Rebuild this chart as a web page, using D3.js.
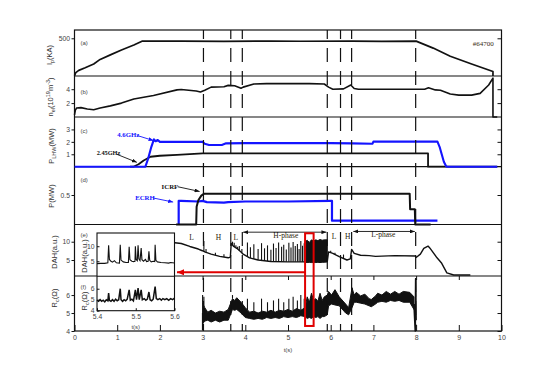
<!DOCTYPE html>
<html><head><meta charset="utf-8">
<script src="https://cdn.jsdelivr.net/npm/d3@7"></script>
<style>body{margin:0;background:#fff}svg{display:block}</style>
</head><body>
<svg id="c" width="557" height="365"></svg>
<script>
// ---------------- DATA ----------------
const tTicks = [0,1,2,3,4,5,6,7,8,9,10];
const ipTicks = [500], neTicks = [2,4], plhTicks = [1,2,3], pTicks = [0.5], dahTicks = [5,10], rcTicks = [4,5,6];
const insetTTicks = [5.4,5.5,5.6], insetDahTicks = [5,10], insetRcTicks = [4,5,6];
const eventTimes = [3.02,3.66,3.93,5.92,6.23,6.49,7.99];
const shotLabel = "#64700";

const ip = [[0,5],[0.03,45],[0.1,75],[0.25,110],[0.45,160],[0.6,220],[0.84,280],[1.1,345],[1.39,410],[1.58,462],
  [2.5,462],[3.5,460],[4.6,462],[5.3,461],[6.5,462],[7.2,460],[8.0,462],[8.4,370],[8.8,262],[9.3,160],[9.8,60],[9.8,0]];
const ne = [[0,0.3],[0.02,1.0],[0.05,1.3],[0.15,1.35],[0.3,1.15],[0.45,1.05],[0.6,1.3],[0.84,1.6],[1.1,2.0],[1.39,2.6],
  [1.85,3.1],[2.4,3.9],[2.5,3.95],[2.85,3.75],[2.95,3.6],[3.05,3.85],[3.2,4.3],[3.5,4.35],[3.6,4.55],[3.75,4.5],[3.9,4.15],
  [3.95,4.3],[4.2,4.75],[4.5,4.8],[5.0,4.8],[5.5,4.8],[5.85,4.75],[5.95,4.3],[6.05,4.0],[6.3,4.05],[6.47,4.6],[6.55,4.1],
  [6.65,4.0],[7.0,4.0],[7.5,4.0],[8.0,4.0],[8.2,4.0],[8.29,4.2],[8.45,3.9],[8.57,3.85],[8.8,3.3],[9.0,3.15],[9.3,3.15],
  [9.5,3.4],[9.7,4.6],[9.8,5.6],[9.8,0],[9.9,0]];
const lh46 = [[0,0],[1.66,0],[1.72,0.6],[1.8,1.6],[1.86,2.2],[1.9,2.05],[1.95,2.15],[2.0,2.0],[2.5,2.0],[3.0,2.0],[3.05,1.85],
  [3.15,1.75],[3.45,1.75],[3.55,1.88],[4.0,1.9],[5.0,1.9],[6.0,1.9],[6.5,1.88],[6.98,1.85],[7.0,2.02],[8.5,2.02],[8.55,1.6],
  [8.6,1.0],[8.65,0.4],[8.7,0.05],[8.72,0],[9.9,0]];
const lh245 = [[1.3,0],[1.38,0],[1.5,0.2],[1.62,0.5],[1.78,0.8],[2.0,0.88],[2.4,0.95],[2.9,1.05],[3.0,1.07],[8.28,1.07],[8.28,0],[9.9,0]];
const ecrh = [[2.44,0],[2.44,0.40],[2.5,0.40],[2.9,0.39],[3.0,0.40],[3.1,0.38],[3.5,0.37],[3.6,0.38],[4.0,0.39],[5.0,0.39],
  [6.0,0.40],[6.03,0.40],[6.03,0.065],[8.5,0.065]];
const icrf = [[2.38,0],[2.85,0],[2.86,0.30],[2.9,0.41],[2.97,0.49],[3.03,0.52],[7.85,0.52],[7.86,0.26],[7.97,0.26],[7.98,0],[8.34,0]];
const dah = [[2.0,9.8],[2.35,9.7],[2.5,9.5],[2.7,8.7],[2.9,8.0],[2.98,7.6],[3.02,7.4],[3.05,7.2],[3.2,6.6],[3.4,6.0],
  [3.6,5.6],[3.65,5.8],[3.67,9.5],[3.72,8.8],[3.8,8.2],[3.9,7.2],[3.95,6.6],[4.1,5.6],[4.3,5.0],[4.6,4.6],[5.0,4.5],[5.4,4.5],
  [5.92,4.6],[5.95,7.2],[6.05,6.8],[6.2,5.9],[6.38,5.0],[6.46,5.3],[6.49,7.9],[6.55,6.8],[6.7,6.3],[6.9,6.2],[7.05,6.0],
  [7.5,6.2],[7.98,6.1],[8.0,5.7],[8.1,6.6],[8.18,8.2],[8.28,8.8],[8.32,8.3],[8.49,5.6],[8.6,4.1],[8.72,1.5],[8.88,0.9],[9.27,0.9]];
const dahSpikes = [[3.03,10.2],[3.08,8.0],[3.3,7.0],[3.5,6.6],[3.7,10.0],[3.74,9.7],[3.78,9.0],[3.82,8.6],[3.86,8.8],[3.92,8.0],
  [4.05,9.8],[4.12,8.5],[4.2,9.3],[4.3,8.0],[4.38,9.6],[4.45,8.2],[4.52,9.0],[4.6,7.8],[4.66,9.5],[4.72,8.3],[4.78,9.8],
  [4.85,8.6],[4.9,9.2],[4.96,7.9],[5.02,9.7],[5.07,8.4],[5.12,9.9],[5.17,8.8],[5.22,9.4],[5.26,8.0],[5.3,10.2],[5.34,8.9],
  [5.38,9.6],[6.0,7.5],[6.1,7.0],[6.3,6.5]];
const dahBand = [[5.4,4.4,10.0],[5.45,4.3,10.4],[5.5,4.4,9.8],[5.55,4.3,10.5],[5.6,4.4,10.2],[5.65,4.3,10.5],[5.7,4.4,10.3],
  [5.75,4.3,10.6],[5.8,4.4,10.4],[5.85,4.4,10.5],[5.92,4.5,10.5]];
const rcBand = [[3.0,4.4,5.6],[3.05,4.55,5.3],[3.12,4.6,5.05],[3.2,4.5,5.15],[3.3,4.6,5.0],[3.4,4.5,5.1],[3.5,4.6,5.05],
  [3.6,4.6,5.2],[3.65,4.9,5.5],[3.7,5.2,5.8],[3.75,5.15,5.7],[3.8,5.2,5.85],[3.9,5.0,5.6],[4.0,4.75,5.3],[4.1,4.7,5.05],
  [4.2,4.65,5.1],[4.3,4.7,5.0],[4.4,4.65,5.1],[4.5,4.75,5.05],[4.6,4.7,5.15],[4.7,4.75,5.05],[4.8,4.7,5.15],[4.9,4.8,5.1],
  [5.0,4.75,5.2],[5.1,4.8,5.1],[5.2,4.75,5.25],[5.3,4.85,5.15],[5.4,4.8,5.3],[5.45,4.7,5.9],[5.5,4.75,5.6],
  [5.55,4.7,6.1],[5.6,4.8,5.7],[5.65,4.75,5.8],[5.7,4.8,5.65],[5.75,4.7,6.1],[5.8,4.8,5.7],[5.85,4.8,5.9],[5.92,4.9,6.0],
  [5.95,5.4,6.2],[6.02,5.5,6.0],[6.1,5.45,6.3],[6.2,5.4,5.9],[6.35,5.0,5.5],[6.42,4.9,5.3],[6.5,5.3,6.4],[6.55,5.6,6.0],
  [6.6,5.6,6.15],[6.7,5.55,5.95],[6.8,5.5,6.05],[6.9,5.4,5.8],[6.95,5.35,5.75],[7.05,5.5,5.95],[7.1,5.6,6.1],[7.2,5.65,6.0],
  [7.3,5.6,6.2],[7.4,5.7,6.05],[7.5,5.65,6.2],[7.6,5.7,6.05],[7.7,5.6,6.2],[7.85,5.6,6.15],[7.95,5.2,5.9]];
const rcSpikes = [[3.0,6.0],[3.03,5.9],[3.7,6.0],[4.05,5.8],[4.2,5.6],[4.38,5.8],[4.52,5.6],[4.66,5.7],[4.78,5.8],[4.9,5.6],
  [5.02,5.8],[5.12,5.9],[5.22,5.7],[5.3,6.0],[5.38,5.8],[6.49,6.45],[7.99,6.9]];
const rcDrop = [[7.95,5.5],[7.98,4.0],[7.99,6.9],[8.0,4.6]];

const insetDah = [[5.400,4.2],[5.410,4.3],[5.420,4.3],[5.428,4.5],[5.430,10.3],[5.432,5.6],[5.436,5.0],[5.440,4.7],[5.445,5.2],
  [5.450,4.5],[5.458,4.4],[5.460,10.5],[5.462,5.4],[5.468,4.8],[5.475,4.6],[5.481,4.6],[5.483,9.8],[5.485,5.5],[5.490,5.0],
  [5.494,4.9],[5.498,5.0],[5.499,10.0],[5.501,5.6],[5.504,5.2],[5.506,10.3],[5.508,5.8],[5.511,5.2],[5.514,9.4],[5.516,5.5],
  [5.520,5.0],[5.525,5.6],[5.528,4.9],[5.532,5.0],[5.534,8.3],[5.536,5.3],[5.540,4.8],[5.545,5.0],[5.549,4.9],[5.550,10.5],
  [5.552,5.3],[5.556,4.8],[5.565,4.6],[5.575,4.5],[5.585,4.4],[5.590,4.6],[5.600,4.4]];
const insetRc = [[5.400,4.95],[5.404,4.85],[5.408,5.0],[5.412,4.85],[5.416,4.95],[5.420,4.8],[5.424,5.0],[5.428,4.9],[5.430,5.6],
  [5.432,4.95],[5.436,4.85],[5.440,5.0],[5.444,4.85],[5.448,5.05],[5.452,4.9],[5.456,5.0],[5.460,6.0],[5.462,5.0],[5.466,4.85],
  [5.470,5.0],[5.474,4.9],[5.478,5.05],[5.483,5.9],[5.486,4.95],[5.490,5.05],[5.494,4.9],[5.499,5.9],[5.502,5.0],[5.506,6.05],
  [5.509,5.0],[5.514,5.9],[5.517,5.0],[5.522,5.1],[5.526,4.95],[5.530,5.05],[5.534,5.7],[5.537,5.0],[5.541,4.9],[5.545,5.05],
  [5.550,6.2],[5.553,5.1],[5.557,5.0],[5.562,5.1],[5.566,4.95],[5.570,5.1],[5.575,5.0],[5.580,5.1],[5.585,4.95],[5.590,5.1],
  [5.595,5.0],[5.600,5.15]];

// ---------------- LAYOUT ----------------
const svg = d3.select("#c");
const L = 74.5, R = 501.5, TOP = 30, BOT = 331;
const x = d3.scaleLinear().domain([0,10]).range([L,R]);
const mk = (dom, bot, top) => d3.scaleLinear().domain(dom).range([bot, top]);
const yA = mk([0,610],76,30), yB = mk([0,5.9],117,76), yC = mk([0,4],166.7,117),
      yD = mk([0,0.98],224.5,166.7), yE = mk([0.63,14.7],276,224.5), yF = mk([4,7.06],331,276);
const BLUE = "#1414ff", INK = "#111";
const SANS = "'Liberation Sans', Arial, sans-serif", SERIF = "'Liberation Serif','Times New Roman', serif";
const fmt = d => String(d);

const defs = svg.append("defs");
function marker(id, color, w, h){
  defs.append("marker").attr("id",id).attr("markerUnits","userSpaceOnUse").attr("markerWidth",w).attr("markerHeight",h)
    .attr("refX",w).attr("refY",h/2).attr("orient","auto-start-reverse")
    .append("path").attr("d",`M0,0L${w},${h/2}L0,${h}Z`).attr("fill",color);
}
marker("ak",INK,5,4); marker("ab",BLUE,5,4); marker("ar","#e00000",7,6);

const g = svg.append("g");
const line = (ys) => d3.line().x(d=>x(d[0])).y(d=>ys(d[1]));
function path(data, ys, color, w){
  g.append("path").datum(data).attr("d",line(ys)).attr("fill","none").attr("stroke",color)
    .attr("stroke-width",w).attr("stroke-linejoin","round");
}

// frame
const frameYs = [76,117,166.7,224.5,276];
g.append("rect").attr("x",L).attr("y",TOP).attr("width",R-L).attr("height",BOT-TOP)
  .attr("fill","none").attr("stroke",INK).attr("stroke-width",1.2);
frameYs.forEach(v=>g.append("line").attr("x1",L).attr("x2",R).attr("y1",v).attr("y2",v).attr("stroke",INK).attr("stroke-width",1.2));

// axes
function yAxes(ys, ticks){
  const la = g.append("g").attr("transform",`translate(${L},0)`).call(d3.axisLeft(ys).tickValues(ticks).tickSize(3).tickPadding(1.5).tickFormat(fmt));
  la.select(".domain").remove();
  la.selectAll("line").attr("stroke",INK);
  la.selectAll("text").attr("font-family",SANS).attr("font-size",6.8).attr("fill","#444");
  const ra = g.append("g").attr("transform",`translate(${R},0)`).call(d3.axisRight(ys).tickValues(ticks).tickSize(-4).tickFormat(""));
  ra.select(".domain").remove(); ra.selectAll("line").attr("stroke",INK);
}
yAxes(yA, ipTicks); yAxes(yB, neTicks); yAxes(yC, plhTicks); yAxes(yD, pTicks); yAxes(yE, dahTicks); yAxes(yF, rcTicks);
const xa = g.append("g").attr("transform",`translate(0,${BOT})`).call(d3.axisBottom(x).tickValues(tTicks).tickSize(-6).tickPadding(4).tickFormat(fmt));
xa.select(".domain").remove(); xa.selectAll("line").attr("stroke",INK);
xa.selectAll("text").attr("font-family",SANS).attr("font-size",7).attr("fill","#444");
const xt = g.append("g").attr("transform",`translate(0,276)`).call(d3.axisBottom(x).tickValues(tTicks.slice(1,-1)).tickSize(4).tickFormat(""));
xt.select(".domain").remove(); xt.selectAll("line").attr("stroke",INK);

// axis titles
function ytitle(cx, cy, parts){
  const t = g.append("text").attr("transform",`translate(${cx},${cy}) rotate(-90)`).attr("text-anchor","middle")
    .attr("font-family",SANS).attr("font-size",7.5).attr("fill","#333");
  parts.forEach(p=>{
    const s = t.append("tspan").text(p[0]);
    if(p[1]==="sub") s.attr("dy",2).attr("font-size",5.5);
    else if(p[1]==="sup") s.attr("dy",-3).attr("font-size",5.5);
    else if(p[1]==="back") s.attr("dy",p[2]);
  });
}
ytitle(52,55,[["I"],["p","sub"],["(KA)","back",-2]]);
ytitle(53,97,[["n"],["el","sub"],["(10","back",-2],["19","sup"],["m","back",3],["-3","sup"],[")","back",3]]);
ytitle(54,146,[["P"],["LHW","sub"],["(MW)","back",-2]]);
ytitle(54,196,[["P(MW)"]]);
ytitle(57,252,[["DAH(a.u.)"]]);
ytitle(57,298,[["R"],["c","sub"],["(Ω)","back",-2]]);

// panel letters
[["(a)",43],["(b)",91.5],["(c)",130.5],["(d)",180],["(e)",235],["(f)",287]].forEach(p=>
  g.append("text").attr("x",80.5).attr("y",p[1]+2).attr("font-family",SANS).attr("font-size",6).attr("fill","#444").text(p[0]));
g.append("text").attr("x",x(9.57)).attr("y",yA(400)).attr("text-anchor","middle").attr("font-family",SERIF)
  .attr("font-size",7).attr("fill","#3a2a14").text(shotLabel);

// data lines
path(ip, yA, INK, 1.7);
path(ne, yB, INK, 1.6);
path(lh245, yC, INK, 1.8);
path(lh46, yC, BLUE, 2.1);
path(ecrh, yD, BLUE, 2.2);
path(icrf, yD, INK, 2.0);

// DAH
function interp(series, t){
  const i = d3.bisector(d=>d[0]).left(series, t);
  if(i<=0) return series[0][1];
  if(i>=series.length) return series[series.length-1][1];
  const a = series[i-1], b = series[i];
  return a[1] + (b[1]-a[1])*(t-a[0])/(b[0]-a[0]);
}
path(dah, yE, INK, 1.4);
g.append("path").datum(dahBand).attr("d",d3.area().x(d=>x(d[0])).y0(d=>yE(d[1])).y1(d=>yE(d[2])))
  .attr("fill",INK).attr("stroke",INK).attr("stroke-width",1);
dahSpikes.forEach(s=>g.append("line").attr("x1",x(s[0])).attr("x2",x(s[0])).attr("y1",yE(interp(dah,s[0]))).attr("y2",yE(s[1]))
  .attr("stroke",INK).attr("stroke-width",1.1));

// Rc
g.append("path").datum(rcBand).attr("d",d3.area().x(d=>x(d[0])).y0(d=>yF(d[1])).y1(d=>yF(d[2])))
  .attr("fill",INK).attr("stroke",INK).attr("stroke-width",1);
const rcTop = rcBand.map(d=>[d[0],d[2]]);
rcSpikes.forEach(s=>g.append("line").attr("x1",x(s[0])).attr("x2",x(s[0])).attr("y1",yF(interp(rcTop,s[0]))).attr("y2",yF(s[1]))
  .attr("stroke",INK).attr("stroke-width",1.1));
g.append("line").attr("x1",x(3.0)).attr("x2",x(3.0)).attr("y1",yF(4.05)).attr("y2",yF(5.0)).attr("stroke",INK).attr("stroke-width",1.4);
path(rcDrop, yF, INK, 1.6);

// event lines
eventTimes.forEach(t=>g.append("line").attr("x1",x(t)).attr("x2",x(t)).attr("y1",TOP).attr("y2",BOT)
  .attr("stroke",INK).attr("stroke-width",1.2).attr("stroke-dasharray","14,9").attr("stroke-dashoffset",5));

// annotations
function ann(txt, tx, ty, color, anchor, size, bold){
  g.append("text").attr("x",tx).attr("y",ty).attr("text-anchor",anchor||"start").attr("font-family",SERIF)
    .attr("font-size",size||7).attr("font-weight",bold?"bold":"normal").attr("fill",color).text(txt);
}
function arrow(x1,y1,x2,y2,color,mid,both,w){
  const l = g.append("line").attr("x1",x1).attr("y1",y1).attr("x2",x2).attr("y2",y2).attr("stroke",color).attr("stroke-width",w||0.9)
    .attr("marker-end",`url(#${mid})`);
  if(both) l.attr("marker-start",`url(#${mid})`);
}
ann("4.6GHz", x(1.0), yC(2.4), BLUE, "start", 6.8, true);
arrow(x(1.48), yC(2.5), x(1.85), yC(2.1), BLUE, "ab");
ann("2.45GHz", x(0.52), yC(0.92), INK, "start", 6.3, true);
arrow(x(0.99), yC(1.0), x(1.46), yC(0.35), INK, "ak");
ann("ICRF", x(2.04), yD(0.6), INK, "start", 6.8, true);
arrow(x(2.42), yD(0.64), x(2.93), yD(0.56), INK, "ak");
ann("ECRH", x(1.42), yD(0.41), BLUE, "start", 6.8, true);
arrow(x(1.84), yD(0.45), x(2.31), yD(0.38), BLUE, "ab");

const OR = "#2a1c08";
ann("L", x(2.74), yE(10.6), OR, "middle", 7.5);
ann("H", x(3.37), yE(10.6), OR, "middle", 7.5);
ann("L", x(3.78), yE(10.6), OR, "middle", 7.5);
ann("H-phase", x(4.95), yE(11.1), OR, "middle", 7.5);
arrow(x(3.95), yE(12.6), x(5.9), yE(12.6), INK, "ak", true);
ann("L", x(6.08), yE(10.8), OR, "middle", 7.5);
ann("H", x(6.40), yE(10.8), OR, "middle", 7.5);
ann("L-phase", x(7.23), yE(11.4), OR, "middle", 7.5);
arrow(x(6.53), yE(12.8), x(7.97), yE(12.8), INK, "ak", true);

// red box
g.append("rect").attr("x",x(5.4)).attr("y",yE(12.3)).attr("width",x(5.6)-x(5.4)).attr("height",yF(4.28)-yE(12.3))
  .attr("fill","none").attr("stroke","#e00000").attr("stroke-width",2);

// inset
const IX0 = 97, IX1 = 174.5, IT = 233, IM = 276.3, IB = 310.7;
const xi = d3.scaleLinear().domain([5.4,5.6]).range([IX0,IX1]);
const yi1 = d3.scaleLinear().domain([0,14.4]).range([IM,IT]);
const yi2 = d3.scaleLinear().domain([4,7.13]).range([IB,IM]);
g.append("rect").attr("x",IX0).attr("y",IT).attr("width",IX1-IX0).attr("height",IB-IT).attr("fill","#fff");
g.append("path").datum(insetDah).attr("d",d3.line().x(d=>xi(d[0])).y(d=>yi1(d[1]))).attr("fill","none").attr("stroke",INK).attr("stroke-width",1.1);
g.append("path").datum(insetRc).attr("d",d3.line().x(d=>xi(d[0])).y(d=>yi2(d[1]))).attr("fill","none").attr("stroke",INK).attr("stroke-width",1.5);
g.append("rect").attr("x",IX0).attr("y",IT).attr("width",IX1-IX0).attr("height",IB-IT).attr("fill","none").attr("stroke",INK).attr("stroke-width",1.1);
g.append("line").attr("x1",IX0).attr("x2",IX1).attr("y1",IM).attr("y2",IM).attr("stroke",INK).attr("stroke-width",1.1);
function iax(ys, ticks){
  const a = g.append("g").attr("transform",`translate(${IX0},0)`).call(d3.axisLeft(ys).tickValues(ticks).tickSize(-2.5).tickPadding(2.5).tickFormat(fmt));
  a.select(".domain").remove(); a.selectAll("line").attr("stroke",INK);
  a.selectAll("text").attr("font-family",SANS).attr("font-size",6.8).attr("fill","#444");
}
iax(yi1, insetDahTicks); iax(yi2, insetRcTicks);
const ixa = g.append("g").attr("transform",`translate(0,${IB})`).call(d3.axisBottom(xi).tickValues(insetTTicks).tickSize(-2.5).tickPadding(3.5).tickFormat(d3.format(".1f")));
ixa.select(".domain").remove(); ixa.selectAll("line").attr("stroke",INK);
ixa.selectAll("text").attr("font-family",SANS).attr("font-size",6.8).attr("fill","#444");
g.append("text").attr("x",xi(5.5)).attr("y",329).attr("text-anchor","middle").attr("font-family",SANS).attr("font-size",6).attr("fill","#444").text("t(s)");
ytitle(87,256,[["DAH(a.u.)"]]);
ytitle(87,301,[["R"],["c","sub"],["(Ω)","back",-2]]);

// red arrow
arrow(x(5.4), yE(1.64), x(2.4), yE(1.64), "#e00000", "ar", false, 2);

g.append("text").attr("x",x(5.0)).attr("y",352).attr("text-anchor","middle").attr("font-family",SANS).attr("font-size",6).attr("fill","#444").text("t(s)");
</script>
</body></html>
